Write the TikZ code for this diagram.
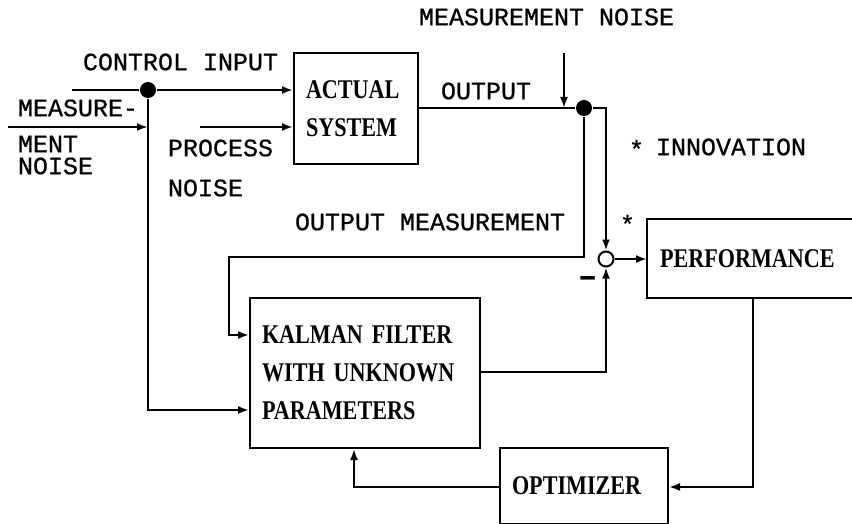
\documentclass[tikz,border=0pt]{standalone}
\usepackage{fontspec}
\newfontfamily\labfont[FakeBold=0.7]{Liberation Mono}
\newfontfamily\boxfont[FakeStretch=0.82]{Liberation Serif}
\usetikzlibrary{arrows.meta,calc}
\begin{document}
\begin{tikzpicture}[x=0.5pt,y=-0.5pt,
  line width=1pt,
  >={Latex[length=5.5pt,width=4pt]},
  lab/.style={anchor=west,inner sep=0pt,font=\labfont\fontsize{12.5}{13}\selectfont},
  blk/.style={draw,line width=1pt,anchor=north west,inner xsep=6pt,inner ysep=0pt,align=left,font=\boxfont\bfseries\fontsize{13.5}{19}\selectfont},
  jdot/.style={circle,fill,inner sep=0pt,minimum size=8pt},
  sumj/.style={circle,draw,fill=white,inner sep=0pt,minimum size=7.5pt}]
\useasboundingbox (0,0) rectangle (852,524);

% blocks
\node[blk,text width=50pt,minimum height=55.5pt] (sys) at (293,52) {ACTUAL\\SYSTEM};
\node[blk,text width=103pt,minimum height=75pt] (kal) at (249,297) {KALMAN FILTER\\WITH UNKNOWN\\PARAMETERS};
\node[blk,draw=none,text width=90.5pt,minimum height=38.5pt] (perf) at (647,219) {PERFORMANCE};
\draw (perf.north east) -- (perf.north west) -- (perf.south west) -- (perf.south east);
\node[blk,text width=72pt,minimum height=38pt] (opt) at (499,447) {OPTIMIZER};

% junctions
\node[jdot] (d1) at (148,90) {};
\node[jdot] (d2) at (584,108) {};
\node[sumj] (sum) at (606,259) {};

% helper coordinates
\coordinate (ci) at (72,90);
\coordinate (pn) at (200,127);
\coordinate (mnl) at (8,127);
\coordinate (mnt) at (564,53);
\coordinate (oc) at (606,108);
\coordinate (om1) at (584,257);
\coordinate (om2) at (229,257);
\coordinate (om3) at (229,335);
\coordinate (ky2) at (0,410);
\coordinate (ky3) at (0,372);
\coordinate (oy) at (0,487);
\coordinate (px) at (753,0);
\coordinate (kx) at (354,0);

% connectors
\draw[->] (ci) -- (d1) -- (d1 -| sys.west);
\draw[->] (pn) -- (pn -| sys.west);
\draw[->] (mnl) -- (mnl -| d1);
\draw[->] (d1) |- (kal.west |- ky2);
\draw (sys.east |- d2) -- (d2);
\draw[->] (d2) -- (oc) -- (sum);
\draw[->] (mnt) -- (mnt |- d2);
\draw[->] (d2) -- (om1) -- (om2) -- (om3) -- (om3 -| kal.west);
\draw[->] (kal.east |- ky3) -| (sum);
\draw[->] (sum) -- (sum -| perf.west);
\draw[->] (perf.south -| px) |- (opt.east |- oy);
\draw[->] (opt.west |- oy) -| (kal.south -| kx);

% labels
\node[lab] (lci) at (82,62) {CONTROL INPUT};
\node[lab] (lmn1) at (17,108) {MEASURE-};
\node[lab] (lmn2) at (17,144) {MENT};
\node[lab] (lmn3) at (17,166) {NOISE};
\node[lab] (lpn1) at (167,148) {PROCESS};
\node[lab] (lpn2) at (167,188) {NOISE};
\node[lab] (lmt) at (418,17) {MEASUREMENT NOISE};
\node[lab] (lout) at (440,91) {OUTPUT};
\node[lab] (lst1) at (628,149) {*};
\node[lab] (linn) at (655,147) {INNOVATION};
\node[lab] (lom) at (294,222) {OUTPUT MEASUREMENT};
\node[lab] (lst2) at (619,224) {*};
\node[lab] (lmin) at (577,281) {\fontsize{16}{16}\selectfont\textbf{–}};
\end{tikzpicture}
\end{document}
